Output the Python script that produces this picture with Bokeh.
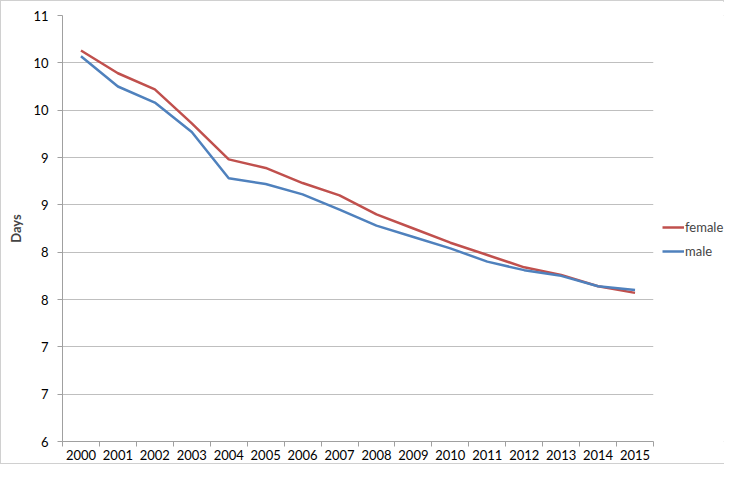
from bokeh.plotting import figure
from bokeh.layouts import row
from bokeh.models import Range1d, FixedTicker, CustomJSTickFormatter, Legend, LegendItem
from bokeh.embed import file_html
from bokeh.resources import INLINE

years = list(range(2000, 2016))
female = [10.13, 9.89, 9.72, 9.36, 8.98, 8.89, 8.73, 8.60, 8.40, 8.25, 8.10, 7.97, 7.84, 7.76, 7.64, 7.57]
male = [10.07, 9.75, 9.58, 9.27, 8.78, 8.72, 8.61, 8.45, 8.28, 8.16, 8.04, 7.90, 7.81, 7.75, 7.64, 7.60]
series_names = ["female", "male"]
y_ticks = [6, 6.5, 7, 7.5, 8, 8.5, 9, 9.5, 10, 10.5]

FONT = "Lato"
GRID = "#bfbfbf"
AXIS = "#a0a0a0"
RED = "#C0504D"
BLUE = "#4F81BD"

p = figure(width=656, height=462, output_backend="svg", toolbar_location=None,
           x_range=Range1d(years[0] - 0.5, years[-1] + 0.5),
           y_range=Range1d(6, 10.5),
           min_border_left=61, min_border_right=4, min_border_top=14, min_border_bottom=22)
p.outline_line_color = None
p.background_fill_color = "white"

# x axis
p.xaxis.ticker = FixedTicker(ticks=years, minor_ticks=[y - 0.5 for y in years] + [years[-1] + 0.5])
p.xaxis.major_tick_out = 0
p.xaxis.major_tick_in = 0
p.xaxis.minor_tick_out = 5
p.xaxis.minor_tick_in = 0
p.xaxis.minor_tick_line_color = AXIS
p.xaxis.axis_line_color = AXIS
p.xaxis.major_label_standoff = 3
p.xaxis.major_label_text_font = FONT
p.xaxis.major_label_text_font_size = "13px"
p.xaxis.major_label_text_color = "#000000"
p.xgrid.grid_line_color = None

# y axis
p.yaxis.ticker = FixedTicker(ticks=y_ticks)
p.yaxis.formatter = CustomJSTickFormatter(code="return Math.round(tick).toString();")
p.yaxis.major_tick_out = 5
p.yaxis.major_tick_in = 0
p.yaxis.minor_tick_line_color = None
p.yaxis.major_tick_line_color = AXIS
p.yaxis.axis_line_color = AXIS
p.yaxis.major_label_standoff = 9
p.yaxis.major_label_text_font = FONT
p.yaxis.major_label_text_font_size = "13px"
p.yaxis.major_label_text_color = "#000000"
p.yaxis.axis_label = "Days"
p.yaxis.axis_label_text_font = FONT
p.yaxis.axis_label_text_font_style = "bold"
p.yaxis.axis_label_text_font_size = "13px"
p.yaxis.axis_label_standoff = 6
p.ygrid.grid_line_color = GRID
p.ygrid.grid_line_width = 1

p.line(years, female, line_color=RED, line_width=2.5)
p.line(years, male, line_color=BLUE, line_width=2.5)

# legend panel (its own renderers sit outside its visible range)
lg = figure(width=68, height=462, output_backend="svg", toolbar_location=None,
            x_range=Range1d(0, 1), y_range=Range1d(0, 1),
            min_border=0, x_axis_type=None, y_axis_type=None)
lg.outline_line_color = None
lg.xgrid.grid_line_color = None
lg.ygrid.grid_line_color = None
lf = lg.line([5, 6], [5, 6], line_color=RED, line_width=2.5)
lm = lg.line([5, 6], [5, 6], line_color=BLUE, line_width=2.5)
legend = Legend(items=[LegendItem(label=series_names[0], renderers=[lf]),
                       LegendItem(label=series_names[1], renderers=[lm])],
                location=(5, 180), orientation="vertical",
                background_fill_alpha=0, border_line_color=None,
                label_text_font=FONT, label_text_font_size="13px",
                glyph_width=22, label_standoff=1, spacing=4, padding=0, margin=0)
lg.add_layout(legend, "center")

layout = row(p, lg, spacing=0)
layout.styles = {"border": "1px solid #d0d0d0", "width": "724px"}

open("out.html", "w").write(file_html(layout, INLINE))
